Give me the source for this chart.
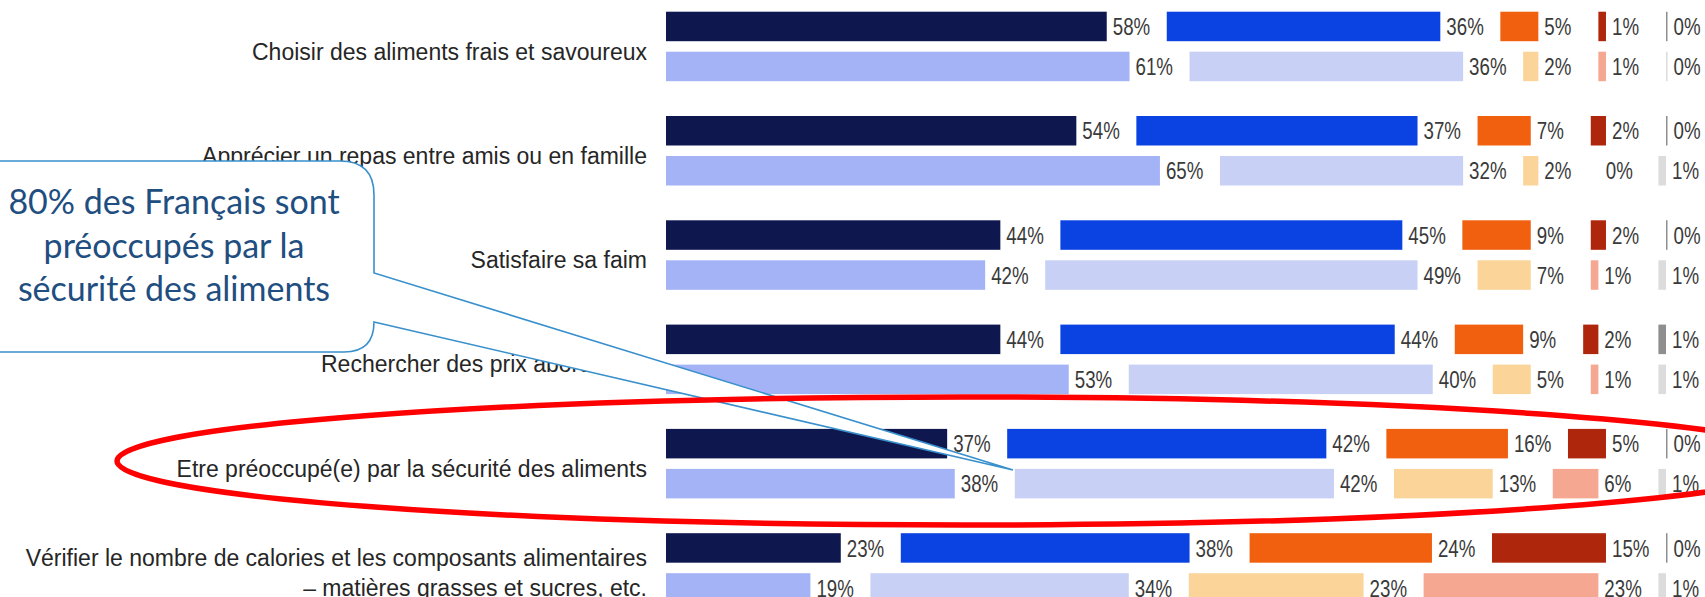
<!DOCTYPE html>
<html>
<head>
<meta charset="utf-8">
<script src="https://cdn.jsdelivr.net/npm/d3@7"></script>
<style>
  body { margin: 0; background: #fff; }
  svg { display: block; }
</style>
</head>
<body>
<div class="chart"></div>
<script>
// Data
const categories = [
  "Choisir des aliments frais et savoureux",
  "Apprécier un repas entre amis ou en famille",
  "Satisfaire sa faim",
  "Rechercher des prix abordables",
  "Etre préoccupé(e) par la sécurité des aliments",
  "Vérifier le nombre de calories et les composants alimentaires|– matières grasses et sucres, etc."
];

// first row of each pair (dark colours)
const darkLevel1 = [58, 54, 44, 44, 37, 23];
const darkLevel2 = [36, 37, 45, 44, 42, 38];
const darkLevel3 = [5, 7, 9, 9, 16, 24];
const darkLevel4 = [1, 2, 2, 2, 5, 15];
const darkLevel5 = [0, 0, 0, 1, 0, 0];

// second row of each pair (light colours)
const lightLevel1 = [61, 65, 42, 53, 38, 19];
const lightLevel2 = [36, 32, 49, 40, 42, 34];
const lightLevel3 = [2, 2, 7, 5, 13, 23];
const lightLevel4 = [1, 0, 1, 1, 6, 23];
const lightLevel5 = [0, 1, 1, 1, 1, 1];

const calloutLines = [
  "80% des Français sont",
  "préoccupés par la",
  "sécurité des aliments"
];

const darkColors = ["#0f174f", "#0a43e2", "#f0600f", "#ae260b", "#8e8e8e"];
const lightColors = ["#a3b3f5", "#c8d0f5", "#fbd49a", "#f6a792", "#dcdcdc"];

const width = 1705;
const height = 597;
const GAP = 7.9; // empty space between segments, in % units

const svg = d3
  .select(".chart")
  .append("svg")
  .attr("width", width)
  .attr("height", height);

const xScale = d3
  .scaleLinear()
  .domain([0, 100 + 4 * GAP])
  .range([666, 1666]);

const yScale = d3
  .scaleBand()
  .domain(categories)
  .range([11.7, 11.7 + 6 * 104.3]);

const barH = 29.5;
const rowOffset = 40;

const darkRows = categories.map((c, i) =>
  [darkLevel1, darkLevel2, darkLevel3, darkLevel4, darkLevel5].map((s) => s[i])
);
const lightRows = categories.map((c, i) =>
  [lightLevel1, lightLevel2, lightLevel3, lightLevel4, lightLevel5].map((s) => s[i])
);

function segments(values, cat, colors, dy) {
  let acc = 0;
  return values.map((v, k) => {
    const seg = { cat, v, k, start: acc, end: acc + v, color: colors[k], dy };
    acc += v + GAP;
    return seg;
  });
}

let allSegs = [];
categories.forEach((c, i) => {
  allSegs = allSegs
    .concat(segments(darkRows[i], c, darkColors, 0))
    .concat(segments(lightRows[i], c, lightColors, rowOffset));
});

// the last (grey) segment keeps a hairline even at 0%
const segW = (d) =>
  Math.max(xScale(d.end) - xScale(d.start), d.k === 4 ? 1.5 : 0);

const bars = svg.append("g").attr("class", "bars");

bars
  .selectAll("rect")
  .data(allSegs)
  .enter()
  .append("rect")
  .attr("x", (d) => xScale(d.start))
  .attr("y", (d) => yScale(d.cat) + d.dy)
  .attr("width", segW)
  .attr("height", barH)
  .attr("fill", (d) => d.color);

// value labels (narrow font look)
bars
  .selectAll("g.val")
  .data(allSegs)
  .enter()
  .append("g")
  .attr("class", "val")
  .attr(
    "transform",
    (d) =>
      `translate(${xScale(d.start) + Math.max(segW(d), 1.5) + 6},${
        yScale(d.cat) + d.dy + barH / 2
      }) scale(0.78,1)`
  )
  .append("text")
  .attr("dy", "0.36em")
  .attr("font-family", "Liberation Sans, Arial, sans-serif")
  .attr("font-size", 24)
  .attr("fill", "#3a3a3a")
  .text((d) => d.v + "%");

// category labels
const labels = svg
  .append("g")
  .attr("font-family", "Liberation Sans, Arial, sans-serif")
  .attr("font-size", 23)
  .attr("fill", "#262626")
  .attr("text-anchor", "end");

categories.forEach((c) => {
  const parts = c.split("|");
  const mid = yScale(c) + (rowOffset + barH) / 2;
  if (parts.length === 1) {
    labels
      .append("text")
      .attr("x", 647)
      .attr("y", mid + 5)
      .attr("dy", "0.35em")
      .text(c);
  } else {
    labels
      .append("text")
      .attr("x", 647)
      .attr("y", yScale(c) + barH / 2 + 10)
      .attr("dy", "0.35em")
      .text(parts[0]);
    labels
      .append("text")
      .attr("x", 647)
      .attr("y", yScale(c) + rowOffset + barH / 2)
      .attr("dy", "0.35em")
      .text(parts[1]);
  }
});

// callout with pointer
const tip = [1013, 470];
const callout = d3.path();
callout.moveTo(-20, 161);
callout.lineTo(340, 161);
callout.quadraticCurveTo(374, 161, 374, 195);
callout.lineTo(374, 273);
callout.lineTo(tip[0], tip[1]);
callout.lineTo(374, 322);
callout.quadraticCurveTo(374, 352, 344, 352);
callout.lineTo(-20, 352);
callout.closePath();

svg
  .append("path")
  .attr("d", callout.toString())
  .attr("fill", "#fff")
  .attr("stroke", "#3990cc")
  .attr("stroke-width", 1.6);

svg
  .append("g")
  .attr("font-family", "Lato, sans-serif")
  .attr("font-size", 34)
  .attr("fill", "#1f4e80")
  .attr("text-anchor", "middle")
  .selectAll("text")
  .data(calloutLines)
  .enter()
  .append("text")
  .attr("x", 174)
  .attr("y", (d, i) => 214 + i * 43.5)
  .text((d) => d);

// red ellipse
svg
  .append("ellipse")
  .attr("cx", 964)
  .attr("cy", 461)
  .attr("rx", 847)
  .attr("ry", 64)
  .attr("fill", "none")
  .attr("stroke", "#ff0000")
  .attr("stroke-width", 5.5);
</script>
</body>
</html>
